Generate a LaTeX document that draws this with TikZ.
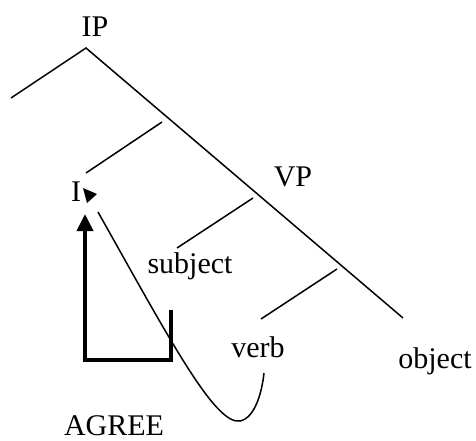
\documentclass[tikz,border=0pt]{standalone}
\usepackage{fontspec}
\setmainfont{Liberation Serif}
\usepackage{tikz}
\usetikzlibrary{arrows.meta}

\tikzset{
  treelabel/.style={inner sep=0pt, font=\fontsize{15}{18}\selectfont},
  branch/.style={line width=0.75pt},
  agreebox/.style={line width=1.9pt, -{Triangle[width=8pt,length=8.5pt]}}
}

\begin{document}
\begin{tikzpicture}[x=0.5pt, y=-0.5pt]
    \useasboundingbox (0,0) rectangle (476,440);

    % labels
    \node[treelabel] (ip) at (95,27) {IP};
    \node[treelabel] (infl) at (76,192) {I};
    \node[treelabel] (vp) at (293,177) {VP};
    \node[treelabel] (subj) at (190,266) {subject};
    \node[treelabel] (verb) at (258,347) {verb};
    \node[treelabel] (obj) at (435,361) {object};
    \node[treelabel] (agree) at (114,426) {AGREE};

    % branch ends
    \coordinate (ip-top) at (86,48);
    \coordinate (ip-left) at (11,98);
    \coordinate (obj-top) at (403,318);
    \coordinate (ibar-r) at (162,122);
    \coordinate (ibar-l) at (86,173);
    \coordinate (vp-r) at (253,198);
    \coordinate (vp-l) at (177,248);
    \coordinate (vbar-r) at (337,269);
    \coordinate (vbar-l) at (261,319);

    \draw[branch] (ip-left) -- (ip-top) -- (obj-top);
    \draw[branch] (ibar-r) -- (ibar-l);
    \draw[branch] (vp-r) -- (vp-l);
    \draw[branch] (vbar-r) -- (vbar-l);

    % movement curve
    \coordinate (curve-start) at (98,212);
    \coordinate (curve-low) at (240,421);
    \coordinate (curve-end) at (264,373);
    \draw[branch] (curve-start) .. controls (170,340) and (215,425) .. (curve-low)
      .. controls (255,418) and (262,392) .. (curve-end);
    \fill (83,188) -- (97,194) -- (87,203) -- cycle;

    % agree bracket
    \coordinate (agree-r) at (171,310);
    \coordinate (agree-tip) at (85,214);
    \draw[agreebox] (agree-r) -- (171,360) -- (85,360) -- (agree-tip);
\end{tikzpicture}
\end{document}
